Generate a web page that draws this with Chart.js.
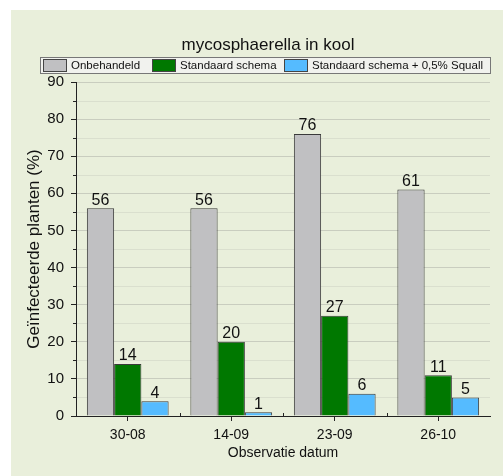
<!DOCTYPE html>
<html>
<head>
<meta charset="utf-8">
<script src="https://cdn.jsdelivr.net/npm/chart.js@4.4.0/dist/chart.umd.min.js"></script>
<style>
  html, body { margin: 0; padding: 0; background: #fff; }
  #wrap { width: 503px; height: 476px; position: relative; }
</style>
</head>
<body>
<div id="wrap"><canvas id="chart" width="503" height="476"></canvas></div>
<script>
// data
const dates = ["30-08", "14-09", "23-09", "26-10"];
const onbehandeld = [56, 56, 76, 61];
const standaard = [14, 20, 27, 11];
const squall = [4, 1, 6, 5];
const seriesNames = ["Onbehandeld", "Standaard schema", "Standaard schema + 0,5% Squall"];
const seriesColors = ["#c0c0c2", "#007800", "#55bbff"];
const yTicks = [0, 10, 20, 30, 40, 50, 60, 70, 80, 90];

const FONT = "'Liberation Sans', Arial, sans-serif";

const decor = {
  id: "decor",
  beforeDraw(chart) {
    const c = chart.ctx;
    c.save();
    c.fillStyle = "#e9efdb";
    c.fillRect(11, 10, chart.width - 11, chart.height - 10);
    // faint minor grid lines at the 5s
    const y = chart.scales.y, a = chart.chartArea;
    c.strokeStyle = "rgba(200,204,190,0.45)";
    c.lineWidth = 1;
    for (let v = 5; v < 90; v += 10) {
      const py = Math.round(y.getPixelForValue(v)) + 0.5;
      c.beginPath(); c.moveTo(a.left, py); c.lineTo(a.right, py); c.stroke();
    }
    c.restore();
  },
  afterDraw(chart) {
    const c = chart.ctx;
    const a = chart.chartArea;
    const x = chart.scales.x, y = chart.scales.y;
    c.save();
    // minor ticks
    c.strokeStyle = "#222"; c.lineWidth = 1;
    for (let v = 5; v < 90; v += 10) {
      const py = Math.round(y.getPixelForValue(v)) + 0.5;
      c.beginPath(); c.moveTo(a.left - 3, py); c.lineTo(a.left, py); c.stroke();
    }
    const step = (a.right - a.left) / dates.length;
    for (let i = 1; i < dates.length; i++) {
      const px = Math.round(a.left + i * step) + 0.5;
      c.beginPath(); c.moveTo(px, a.bottom); c.lineTo(px, a.bottom - 3); c.stroke();
    }
    // value labels
    c.fillStyle = "#111";
    c.font = "16px " + FONT;
    c.textAlign = "center"; c.textBaseline = "bottom";
    chart.data.datasets.forEach((ds, di) => {
      chart.getDatasetMeta(di).data.forEach((bar, i) => {
        c.fillText(String(ds.data[i]), bar.x, bar.y);
      });
    });
    // title
    c.font = "17px " + FONT;
    c.textBaseline = "middle";
    c.fillText("mycosphaerella in kool", 268, 45);
    // legend
    const lx = 40, ly = 57, lw = 450, lh = 16;
    c.fillStyle = "#f1f2ee";
    c.fillRect(lx, ly, lw, lh);
    c.strokeStyle = "#777";
    c.strokeRect(lx + 0.5, ly + 0.5, lw, lh);
    c.font = "11.5px " + FONT;
    c.textAlign = "left";
    const boxX = [43, 152, 284];
    chart.data.datasets.forEach((ds, di) => {
      c.fillStyle = ds.backgroundColor;
      c.fillRect(boxX[di], ly + 2, 23, 12);
      c.strokeStyle = "#444";
      c.strokeRect(boxX[di] + 0.5, ly + 2.5, 23, 12);
      c.fillStyle = "#111";
      c.fillText(ds.label, boxX[di] + 28, ly + 9);
    });
    c.restore();
  }
};

new Chart(document.getElementById("chart"), {
  type: "bar",
  data: {
    labels: dates,
    datasets: [onbehandeld, standaard, squall].map((d, i) => ({
      label: seriesNames[i],
      data: d,
      backgroundColor: seriesColors[i],
      borderColor: "#3a3a3a",
      borderWidth: 1,
      borderSkipped: "bottom",
      categoryPercentage: 0.79,
      barPercentage: 1
    }))
  },
  options: {
    responsive: false,
    animation: false,
    devicePixelRatio: 1,
    layout: { padding: { top: 82, right: 13, left: 22, bottom: 14 } },
    plugins: { legend: { display: false }, title: { display: false }, tooltip: { enabled: false } },
    scales: {
      x: {
        afterFit: s => { s.height = 46; },
        grid: { offset: false, drawOnChartArea: false, tickLength: 5, tickColor: "#222" },
        border: { color: "#222", width: 1 },
        ticks: { color: "#111", font: { family: FONT, size: 14 }, padding: 6 },
        title: { display: true, text: "Observatie datum", color: "#111", font: { family: FONT, size: 14 }, padding: { top: 0, bottom: 0 } }
      },
      y: {
        min: 0, max: 90,
        afterFit: s => { s.width = 54; },
        afterBuildTicks: s => { s.ticks = yTicks.map(v => ({ value: v })); },
        grid: { color: "#c9cdbf", tickLength: 5, tickColor: "#222" },
        border: { color: "#222", width: 1 },
        ticks: { color: "#111", font: { family: FONT, size: 15 }, padding: 7 },
        title: { display: true, text: "Geïnfecteerde planten (%)", color: "#111", font: { family: FONT, size: 17 }, padding: 2 }
      }
    }
  },
  plugins: [decor]
});
</script>
</body>
</html>
